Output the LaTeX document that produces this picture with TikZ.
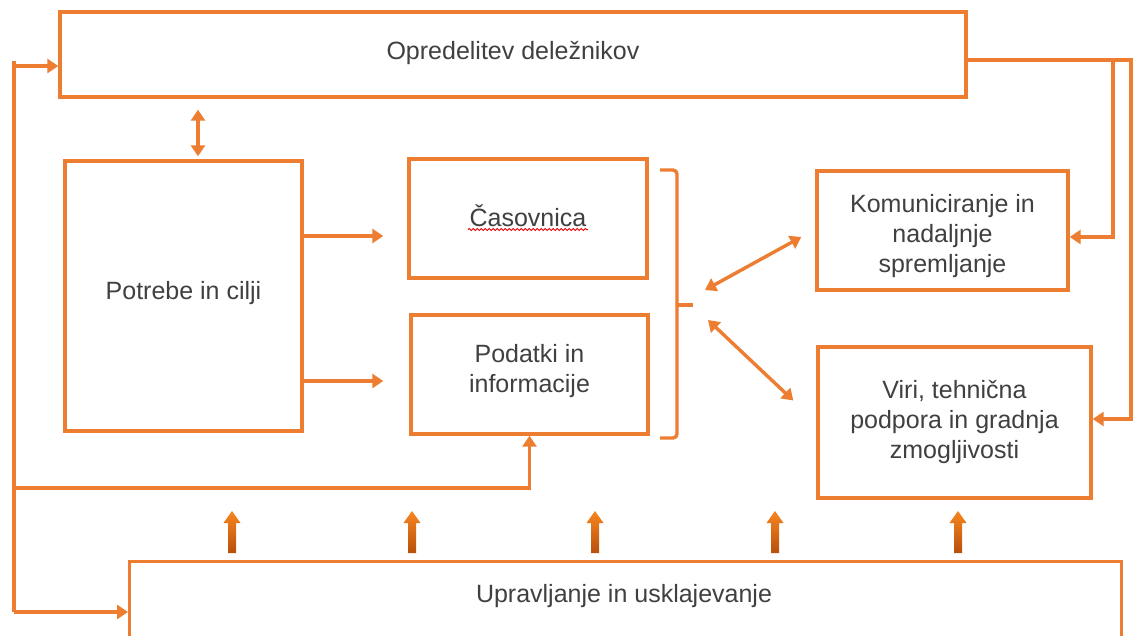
\documentclass[tikz,border=0pt]{standalone}
\usepackage{fontspec}
\setmainfont{Liberation Sans}
\usetikzlibrary{arrows.meta,decorations.pathmorphing,calc}
\definecolor{org}{HTML}{ED7D31}
\definecolor{orgL}{HTML}{F7861F}
\definecolor{orgD}{HTML}{B8500C}
\definecolor{txt}{HTML}{404040}
\tikzset{
  box/.style={draw=org, line width=3.4pt, fill=white, inner sep=0pt, text=txt, align=center,
    font=\fontsize{25}{30}\selectfont},
  lbl/.style={text=txt, inner sep=0pt, align=center, font=\fontsize{25}{30}\selectfont},
  conn/.style={draw=org, line width=3.4pt},
  arr/.style={conn, -{Triangle[length=11pt,width=14pt]}},
  darr/.style={conn, {Triangle[length=11pt,width=14pt]}-{Triangle[length=11pt,width=14pt]}},
  uparrow/.pic={\shade[top color=orgL, bottom color=orgD]
    (-4,0) -- (-4,-30) -- (-8.5,-30) -- (0,-42) -- (8.5,-30) -- (4,-30) -- (4,0) -- cycle;}
}
\begin{document}
\begin{tikzpicture}[x=1pt,y=-1pt]
\useasboundingbox (0,0) rectangle (1133,635);
\clip (0,0) rectangle (1133,635);
\fill[white] (0,0) rectangle (1133,635);

% boxes
\node[box, minimum width=906pt, minimum height=85pt] (top) at (513,54.5) {};
\node[lbl] (toptxt) at ($(top.center)+(0,-2)$) {Opredelitev deležnikov};
\node[box, minimum width=237pt, minimum height=270pt] (pot) at (183.5,296) {};
\node[lbl] (pottxt) at ($(pot.center)+(0,-3)$) {Potrebe in cilji};
\node[box, minimum width=238pt, minimum height=119pt] (cas) at (528,218.5) {};
\node[lbl] (castxt) at ($(cas.center)+(0,-3)$) {Časovnica};
\node[box, minimum width=237pt, minimum height=119pt] (pod) at (529.5,374.5) {};
\node[lbl] (podtxt) at ($(pod.center)+(0,-3)$) {Podatki in\\informacije};
\node[box, minimum width=251pt, minimum height=119pt] (kom) at (942.5,230.5) {};
\node[lbl] (komtxt) at ($(kom.center)+(0,6)$) {Komuniciranje in\\nadaljnje\\spremljanje};
\node[box, minimum width=273pt, minimum height=151pt] (viri) at (954.5,422.5) {};
\node[lbl] (viritxt) at ($(viri.center)+(0,-1)$) {Viri, tehnična\\podpora in gradnja\\zmogljivosti};
\node[box, minimum width=992pt, minimum height=120pt, anchor=north west] (bot) at (128,560) {};
\node[lbl] (bottxt) at (624,596) {Upravljanje in usklajevanje};

% spell-check squiggle
\draw[red!90!black, line width=1pt, decorate, decoration={snake, amplitude=1pt, segment length=4pt}]
  ($(cas.center)+(-60,11)$) -- ($(cas.center)+(60,11)$);

% left feedback lines
\coordinate (L1) at (14,61);
\coordinate (L2) at (14,488);
\coordinate (L3) at (14,612);
\draw[conn] (L1) -- (L3);
\draw[arr] ($(L1)+(-1.7,5)$) -- (top.west |- {$(L1)+(0,5)$});
\draw[arr] (L2) -| (pod.south);
\draw[arr] (L3) -- (bot.west |- L3);

% top <-> potrebe
\draw[darr] ($(top.south -| pot.north)+(14.5,11)$) -- ($(pot.north)+(14.5,-3)$);

% potrebe -> casovnica / podatki
\coordinate (yA) at (0,236);
\coordinate (yB) at (0,381);
\draw[arr, shorten >=24pt] (pot.east |- yA) -- (cas.west |- yA);
\draw[arr, shorten >=26pt] (pot.east |- yB) -- (pod.west |- yB);

% brace
\coordinate (brc) at (693,305);
\draw[conn, rounded corners=4pt] (660,170) -- (677,170) -- (677,438) -- (660,438);
\draw[conn] (677,305) -- (brc);

% double arrows to right boxes
\draw[darr] ($(brc)+(12,-15)$) -- ($(kom.west)+(-14,6.5)$);
\draw[darr] ($(brc)+(15,15)$) -- ($(viri.west)+(-23,-22)$);

% right feedback lines
\coordinate (R1) at (1113,60);
\coordinate (R2) at (1131,60);
\draw[conn] (top.east |- R1) -- (1140,60);
\draw[arr] (R1) |- ($(kom.east)+(0,6.5)$);
\draw[arr] (R2) |- ($(viri.east)+(0,-3.5)$);

% block arrows from bottom box
\foreach \x in {232,412,595,775,958} \pic at (\x,553) {uparrow};
\end{tikzpicture}
\end{document}
